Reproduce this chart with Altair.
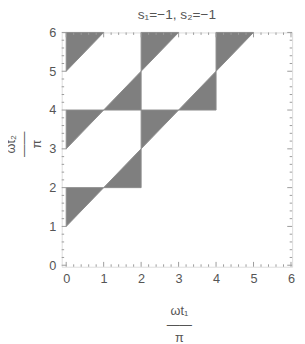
import altair as alt
import pandas as pd

# Shaded triangles: each has two points (x, lower y, upper y)
tri_id = [1, 1, 2, 2, 3, 3, 4, 4, 5, 5, 6, 6, 7, 7, 8, 8, 9, 9]
tri_x  = [0, 1, 1, 2, 0, 1, 1, 2, 0, 1, 2, 3, 3, 4, 2, 3, 4, 5]
tri_lo = [1, 2, 2, 2, 3, 4, 4, 4, 5, 6, 3, 4, 4, 4, 5, 6, 5, 6]
tri_hi = [2, 2, 2, 3, 4, 4, 4, 5, 6, 6, 4, 4, 4, 5, 6, 6, 6, 6]

major_ticks = [0, 1, 2, 3, 4, 5, 6]
minor_ticks = [round(m + k * 0.2, 1) for m in range(6) for k in (1, 2, 3, 4)]

tri = pd.DataFrame({"id": tri_id, "x": tri_x, "lo": tri_lo, "hi": tri_hi})
maj = pd.DataFrame({"v": major_ticks})
mnr = pd.DataFrame({"v": minor_ticks})

W, H = 236, 240
FRAME = "#9a9a9a"
LBL = "#555555"
FONT = "Liberation Sans"

xs = alt.Scale(domain=[-0.12, 6.03], nice=False, zero=False)
ys = alt.Scale(domain=[-0.04, 6.0], nice=False, zero=False)

xaxis = alt.Axis(values=major_ticks, format="d", ticks=False, domain=False, grid=False,
                 labelPadding=6, labelFontSize=13, labelColor=LBL, labelFont=FONT,
                 labelOverlap=False,
                 title=["ωt₁", "——", "π"], titleFontSize=13, titleColor=LBL, titleFont=FONT,
                 titleFontWeight="normal", titleLineHeight=14, titleBaseline="middle",
                 titleAlign="center", titleX=120, titleY=45)
yaxis = alt.Axis(values=major_ticks, format="d", ticks=False, domain=False, grid=False,
                 labelPadding=6, labelFontSize=13, labelColor=LBL, labelFont=FONT,
                 labelOverlap=False,
                 title=["ωt₂", "——", "π"], titleFontSize=13, titleColor=LBL, titleFont=FONT,
                 titleFontWeight="normal", titleLineHeight=13, titleBaseline="middle",
                 titleAlign="center", titleAngle=270, titleX=-52, titleY=114)

area = alt.Chart(tri).mark_area(color="#7f7f7f", stroke="#8c8c8c", strokeWidth=1, opacity=1).encode(
    x=alt.X("x:Q", scale=xs, axis=xaxis),
    y=alt.Y("lo:Q", scale=ys, axis=yaxis),
    y2="hi:Q",
    detail="id:N",
)

def xticks(df, length):
    b = alt.Chart(df).mark_rule(color=FRAME, strokeWidth=1).encode(
        x=alt.X("v:Q", scale=xs, axis=xaxis), y=alt.value(H), y2=alt.value(H - length))
    t = alt.Chart(df).mark_rule(color=FRAME, strokeWidth=1).encode(
        x=alt.X("v:Q", scale=xs, axis=xaxis), y=alt.value(0), y2=alt.value(length))
    return [b, t]

def yticks(df, length):
    l = alt.Chart(df).mark_rule(color=FRAME, strokeWidth=1).encode(
        y=alt.Y("v:Q", scale=ys, axis=yaxis), x=alt.value(0), x2=alt.value(length))
    r = alt.Chart(df).mark_rule(color=FRAME, strokeWidth=1).encode(
        y=alt.Y("v:Q", scale=ys, axis=yaxis), x=alt.value(W), x2=alt.value(W - length))
    return [l, r]

layers = [area] + xticks(maj, 5) + xticks(mnr, 2.5) + yticks(maj, 5) + yticks(mnr, 2.5)

chart = alt.layer(*layers).properties(
    width=W, height=H,
    title=alt.TitleParams("s₁=−1, s₂=−1", fontSize=14, color=LBL, font=FONT,
                          fontWeight="normal", anchor="middle", baseline="alphabetic",
                          offset=4, dy=10, frame="group"),
    autosize=alt.AutoSizeParams(type="none"),
    padding={"left": 55, "top": 21, "right": 5, "bottom": 73},
).configure_view(stroke=FRAME, strokeWidth=1).configure(background="white")

chart.save("out.html", embed_options={"renderer": "svg", "actions": False})
